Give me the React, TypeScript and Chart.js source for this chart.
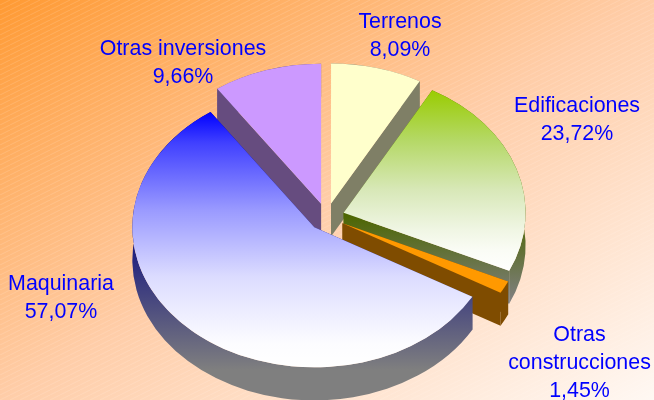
import React, { useEffect, useRef } from "react";
import { Chart, registerables } from "chart.js";

Chart.register(...registerables);

// ---- data ----
const categories = ["Terrenos", "Edificaciones", "Otras construcciones", "Maquinaria", "Otras inversiones"];
const shares = [8.09, 23.72, 1.45, 57.07, 9.66];

// ---- styles ----
const topStops: [number, string][][] = [
  [[0, "#FFFFCC"], [1, "#FFFFCC"]],
  [[0, "#99CC00"], [0.27, "#B4D864"], [0.55, "#D8E8B8"], [0.77, "#F0F6E4"], [0.88, "#FAFCF5"], [1, "#FFFFFF"]],
  [[0, "#FF9900"], [1, "#FF9900"]],
  [[0, "#0000FF"], [0.12, "#4040FF"], [0.385, "#9A9AFF"], [0.647, "#DCDCFF"], [0.906, "#FCFCFF"], [1, "#FFFFFF"]],
  [[0, "#CC99FF"], [1, "#CC99FF"]],
];
const solidTops = ["#FFFFCC", "#99CC00", "#FF9900", "#0000FF", "#CC99FF"];
const wallStart = ["#7F7F66", "#4C6600", "#7F4C00", "#00007F", "#664C7F"];
const wallEnd = ["#7F7F66", "#7F7F7F", "#7F4C00", "#7F7F7F", "#664C7F"];
const topRange = [[64, 200], [90, 272], [280, 295], [112, 367], [64, 200]];
const wallRange = [[80, 240], [214, 300], [225, 330], [210, 370], [90, 240]];
const drawOrder = [0, 4, 1, 2, 3];

const labelLines = [["Terrenos"], ["Edificaciones"], ["Otras", "construcciones"], ["Maquinaria"], ["Otras inversiones"]];
const labelAnchors = [[400, 22], [577, 106], [579.5, 335.5], [61, 284], [183, 49]];

const WIDTH = 654;
const HEIGHT = 400;
const CENTER_X = 326.5;
const CENTER_Y = 217;
const RADIUS = 182;
const SQUASH = 0.77;
const EXPLODE = 18;
const DEPTH = 33;
const LINE_H = 27.7;

function pct(v: number) {
  return v.toFixed(2).replace(".", ",") + "%";
}

function vGrad(ctx: CanvasRenderingContext2D, y0: number, y1: number, stops: [number, string][]) {
  const g = ctx.createLinearGradient(0, y0, 0, y1);
  stops.forEach(([p, c]) => g.addColorStop(p, c));
  return g;
}

function hatch(ctx: CanvasRenderingContext2D) {
  const c = document.createElement("canvas");
  c.width = 10;
  c.height = 5;
  const p = c.getContext("2d")!;
  p.strokeStyle = "rgba(255,255,255,0.14)";
  p.lineWidth = 1;
  p.beginPath();
  p.moveTo(-2, 6);
  p.lineTo(12, -1);
  p.stroke();
  return ctx.createPattern(c, "repeat");
}

const pie3d = {
  id: "pie3d",
  beforeDraw(chart: any) {
    const ctx: CanvasRenderingContext2D = chart.ctx;
    const bg = ctx.createLinearGradient(0, 0, 356, 583);
    bg.addColorStop(0, "#FF9A33");
    bg.addColorStop(0.5, "#FFCDA8");
    bg.addColorStop(1, "#FFF8F3");
    ctx.save();
    ctx.fillStyle = bg;
    ctx.fillRect(0, 0, WIDTH, HEIGHT);
    const pat = hatch(ctx);
    if (pat) {
      ctx.fillStyle = pat;
      ctx.fillRect(0, 0, WIDTH, HEIGHT);
    }
    ctx.restore();
  },
  beforeDatasetsDraw(chart: any) {
    const ctx: CanvasRenderingContext2D = chart.ctx;
    const arcs = chart.getDatasetMeta(0).data;
    for (const i of drawOrder) {
      const arc = arcs[i];
      const t0 = arc.startAngle;
      const t1 = arc.endAngle;
      const mid = (t0 + t1) / 2;
      const sx = CENTER_X + EXPLODE * Math.cos(mid);
      const sy = CENTER_Y + EXPLODE * Math.sin(mid) * SQUASH;
      const ry = RADIUS * SQUASH;

      // side walls
      ctx.save();
      ctx.fillStyle = vGrad(ctx, wallRange[i][0], wallRange[i][1], [[0, wallStart[i]], [1, wallEnd[i]]]);
      for (const t of [t0, t1]) {
        const px = sx + RADIUS * Math.cos(t);
        const py = sy + ry * Math.sin(t);
        ctx.beginPath();
        ctx.moveTo(sx, sy);
        ctx.lineTo(px, py);
        ctx.lineTo(px, py + DEPTH);
        ctx.lineTo(sx, sy + DEPTH);
        ctx.closePath();
        ctx.fill();
      }
      ctx.beginPath();
      ctx.ellipse(sx, sy, RADIUS, ry, 0, t0, t1);
      ctx.ellipse(sx, sy + DEPTH, RADIUS, ry, 0, t1, t0, true);
      ctx.closePath();
      ctx.fill();
      ctx.restore();

      // top face: the library's own arc element, tilted
      const saved = arc.options;
      const g0 = arc.y + (topRange[i][0] - sy) / SQUASH;
      const g1 = arc.y + (topRange[i][1] - sy) / SQUASH;
      arc.options = { ...saved, backgroundColor: vGrad(ctx, g0, g1, topStops[i]) };
      ctx.save();
      ctx.translate(sx, sy);
      ctx.scale(1, SQUASH);
      ctx.translate(-arc.x, -arc.y);
      arc.draw(ctx);
      ctx.restore();
      arc.options = saved;
    }
    return false;
  },
  afterDraw(chart: any) {
    const ctx: CanvasRenderingContext2D = chart.ctx;
    ctx.save();
    ctx.font = '21.4px "Liberation Sans", Arial, sans-serif';
    ctx.fillStyle = "#0000FF";
    ctx.textAlign = "center";
    ctx.textBaseline = "middle";
    categories.forEach((_, i) => {
      const lines = [...labelLines[i], pct(shares[i])];
      lines.forEach((line, k) => {
        ctx.fillText(line, labelAnchors[i][0], labelAnchors[i][1] + k * LINE_H);
      });
    });
    ctx.restore();
  },
};

export default function App() {
  const ref = useRef<HTMLCanvasElement>(null);
  useEffect(() => {
    const chart = new Chart(ref.current!, {
      type: "pie",
      data: {
        labels: categories,
        datasets: [{ data: shares, backgroundColor: solidTops, borderWidth: 0 }],
      },
      options: {
        animation: false,
        responsive: false,
        radius: RADIUS,
        events: [],
        layout: { padding: 0 },
        plugins: { legend: { display: false }, tooltip: { enabled: false } },
      } as any,
      plugins: [pie3d as any],
    });
    return () => chart.destroy();
  }, []);
  return (
    <div style={{ position: "fixed", left: 0, top: 0, width: WIDTH, height: HEIGHT }}>
      <canvas ref={ref} width={WIDTH} height={HEIGHT} style={{ display: "block", width: WIDTH, height: HEIGHT }} />
    </div>
  );
}
